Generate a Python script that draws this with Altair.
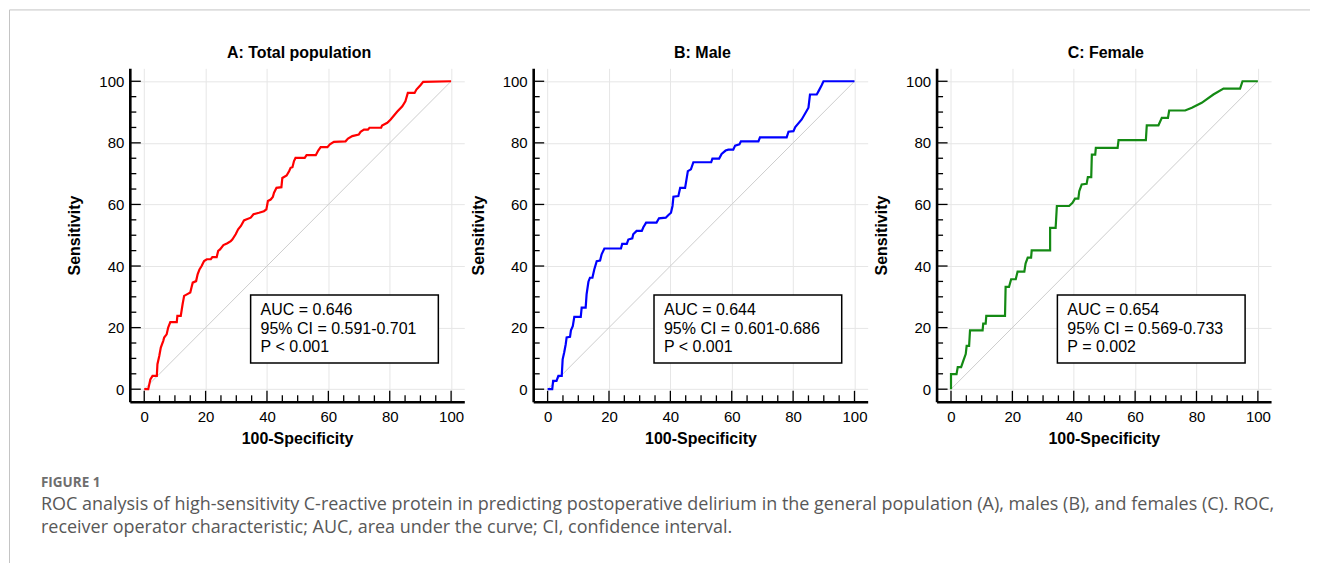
import altair as alt
import pandas as pd

# ---------------- data ----------------
a_x = [0, 1.3, 2.0, 2.7, 4.1, 4.3, 4.9, 5.4, 6.2, 6.5, 7.3, 7.8, 8.5, 10.6, 10.8, 11.9, 12.5, 13.0, 13.9, 15.0,
       15.4, 15.8, 16.9, 17.4, 18.0, 18.7, 19.5, 20.4, 21.7, 22.2, 23.6, 24.1, 24.7, 25.8, 27.1, 28.2, 28.7, 29.8,
       30.6, 31.5, 32.5, 33.2, 34.7, 35.6, 37.4, 39.0, 39.8, 40.3, 41.2, 41.9, 42.3, 43.1, 44.7, 45.0, 46.4, 47.2,
       47.7, 48.3, 48.8, 49.3, 52.3, 52.9, 55.9, 56.7, 57.5, 59.7, 60.5, 61.8, 65.6, 66.4, 67.8, 69.9, 70.5, 71.6,
       72.9, 73.4, 77.2, 77.5, 79.2, 80.3, 82.4, 84.1, 85.1, 85.9, 88.1, 88.7, 90.0, 90.9, 100]
a_y = [0, 0, 3.2, 4.3, 4.3, 8.1, 10.8, 13.5, 15.7, 16.8, 17.8, 20.0, 21.8, 21.8, 23.8, 23.8, 27.6, 30.3, 30.8, 31.4,
       33.0, 34.6, 35.1, 37.3, 38.9, 40.0, 41.6, 42.2, 42.2, 42.9, 42.9, 44.9, 45.4, 46.8, 47.4, 48.1, 48.6, 50.3,
       51.9, 53.0, 54.8, 55.1, 55.7, 56.8, 57.3, 57.8, 58.4, 61.1, 61.6, 62.4, 63.8, 65.4, 65.6, 68.6, 69.4, 70.8,
       71.9, 72.1, 74.1, 75.1, 75.1, 76.0, 76.0, 77.5, 78.6, 78.6, 79.5, 80.3, 80.5, 81.4, 82.2, 82.7, 83.6, 84.3,
       84.3, 84.9, 84.9, 85.6, 86.5, 87.6, 90.1, 91.9, 93.5, 96.2, 96.2, 97.3, 98.7, 99.8, 100]

b_x = [0, 1.5, 1.8, 2.9, 3.5, 4.6, 4.9, 5.4, 5.9, 6.2, 7.3, 7.6, 8.2, 8.7, 10.8, 11.1, 12.4, 12.7, 13.3, 13.8,
       14.6, 15.2, 16.0, 17.1, 17.6, 18.5, 23.9, 24.3, 25.8, 26.3, 27.6, 27.9, 29.0, 30.7, 31.2, 32.1, 35.5, 36.3,
       38.5, 39.3, 40.2, 40.7, 41.0, 42.6, 43.2, 44.8, 45.7, 46.7, 47.5, 53.3, 53.7, 55.9, 56.7, 58.0, 58.9, 60.5,
       61.1, 62.5, 63.0, 68.7, 69.2, 77.9, 78.5, 80.1, 80.7, 82.8, 85.0, 85.5, 87.7, 88.3, 89.3, 89.9, 100]
b_y = [0, 0, 2.7, 2.7, 4.3, 4.3, 9.7, 11.9, 14.6, 16.8, 17.0, 19.1, 20.5, 23.5, 23.5, 26.5, 26.5, 30.8, 34.9, 36.2,
       36.2, 38.9, 41.6, 41.8, 43.8, 45.7, 45.7, 47.2, 47.2, 48.6, 49.0, 50.3, 51.4, 51.4, 52.6, 54.1, 54.1, 55.5,
       55.7, 56.5, 57.3, 59.5, 62.5, 62.7, 65.4, 65.4, 70.8, 71.4, 73.7, 73.7, 74.9, 74.9, 76.4, 77.5, 77.8, 77.8,
       79.1, 79.5, 80.5, 80.5, 81.8, 81.8, 83.6, 83.8, 85.1, 87.6, 91.4, 95.7, 95.7, 96.8, 98.7, 100, 100]

c_x = [0, 0, 1.8, 2.2, 3.3, 4.0, 4.8, 5.1, 5.9, 6.2, 10.3, 10.5, 11.3, 11.5, 17.6, 17.8, 18.9, 19.6, 21.1, 21.7,
       23.9, 24.3, 25.0, 26.1, 26.3, 32.3, 32.3, 34.1, 34.5, 38.5, 39.6, 40.4, 41.5, 41.8, 42.6, 44.2, 44.6, 45.7,
       45.9, 47.0, 47.2, 54.3, 54.6, 63.5, 63.8, 67.6, 68.7, 70.7, 71.1, 76.3, 78.5, 81.7, 85.5, 88.8, 94.2, 95.0, 100]
c_y = [0, 4.9, 4.9, 7.2, 7.2, 9.2, 11.4, 14.1, 14.1, 19.1, 19.1, 21.3, 21.3, 23.8, 23.8, 33.2, 33.2, 35.7, 35.7, 38.2,
       38.2, 40.8, 42.7, 42.7, 45.1, 45.1, 52.4, 52.4, 59.5, 59.5, 60.5, 61.9, 61.9, 64.3, 66.5, 66.7, 68.9, 68.9,
       76.2, 76.2, 78.4, 78.4, 80.9, 80.9, 85.7, 85.7, 88.1, 88.1, 90.5, 90.5, 91.4, 93.0, 95.7, 97.6, 97.6, 100, 100]

panel_titles = ["A: Total population", "B: Male", "C: Female"]
auc_texts = [
    "AUC = 0.646\n95% CI = 0.591-0.701\nP < 0.001",
    "AUC = 0.644\n95% CI = 0.601-0.686\nP < 0.001",
    "AUC = 0.654\n95% CI = 0.569-0.733\nP = 0.002",
]
line_colors = ["#ff0000", "#0000ff", "#148a14"]
major_ticks = [0, 20, 40, 60, 80, 100]
minor_ticks = [5, 10, 15, 25, 30, 35, 45, 50, 55, 65, 70, 75, 85, 90, 95]
diag_ends = [0, 100]

caption_head = "FIGURE 1"
caption_1 = ("ROC analysis of high-sensitivity C-reactive protein in predicting postoperative delirium in the "
             "general population (A), males (B), and females (C). ROC,")
caption_2 = "receiver operator characteristic; AUC, area under the curve; CI, confidence interval."

# ---------------- layout / style ----------------
W, H = 335, 334
XDOM = [-4.7, 104.3]
YDOM = [-4.1, 104.2]
FONT = "Liberation Sans"

xs = alt.Scale(domain=XDOM, nice=False, zero=False)
ys = alt.Scale(domain=YDOM, nice=False, zero=False)


def one_row():
    return pd.DataFrame({"k": [0]})


def panel(i, xv, yv):
    df = pd.DataFrame({"x": xv, "y": yv, "i": list(range(len(xv)))})
    diag = alt.Chart(pd.DataFrame({"x": diag_ends, "y": diag_ends})).mark_line(
        color="#cdcdcd", strokeWidth=1
    ).encode(
        x=alt.X("x:Q", scale=xs, axis=alt.Axis(values=major_ticks, title="100-Specificity",
                                               labelPadding=8, titlePadding=6, labelFlush=False)),
        y=alt.Y("y:Q", scale=ys, axis=alt.Axis(values=major_ticks, title="Sensitivity",
                                               labelPadding=6, titlePadding=16, labelFlush=False)),
    )
    roc = alt.Chart(df).mark_line(color=line_colors[i], strokeWidth=2.2).encode(
        x=alt.X("x:Q", scale=xs), y=alt.Y("y:Q", scale=ys), order="i:Q"
    )
    tmaj = pd.DataFrame({"t": major_ticks})
    tmin = pd.DataFrame({"t": minor_ticks})
    xmaj = alt.Chart(tmaj).mark_rule(color="black", strokeWidth=1.3).encode(
        x=alt.X("t:Q", scale=xs), y=alt.value(H), y2=alt.value(H - 11))
    xmin = alt.Chart(tmin).mark_rule(color="black", strokeWidth=1.3).encode(
        x=alt.X("t:Q", scale=xs), y=alt.value(H), y2=alt.value(H - 6.5))
    ymaj = alt.Chart(tmaj).mark_rule(color="black", strokeWidth=1.3).encode(
        y=alt.Y("t:Q", scale=ys), x=alt.value(0), x2=alt.value(11))
    ymin = alt.Chart(tmin).mark_rule(color="black", strokeWidth=1.3).encode(
        y=alt.Y("t:Q", scale=ys), x=alt.value(0), x2=alt.value(6.5))
    box = alt.Chart(one_row()).mark_rect(fill="white", stroke="black", strokeWidth=1.5).encode(
        x=alt.value(121), x2=alt.value(309), y=alt.value(227), y2=alt.value(295))
    txt = alt.Chart(pd.DataFrame({"t": [auc_texts[i]]})).mark_text(
        align="left", baseline="middle", font=FONT, fontSize=16, lineBreak="\n", lineHeight=18.7,
        color="black"
    ).encode(text="t:N", x=alt.value(131), y=alt.value(242))
    ttl = alt.Chart(pd.DataFrame({"t": [panel_titles[i]]})).mark_text(
        align="center", baseline="middle", font=FONT, fontSize=16, fontWeight="bold", color="black"
    ).encode(text="t:N", x=alt.value(W / 2 + 2), y=alt.value(-15))
    layers = [diag, roc, xmaj, xmin, ymaj, ymin, box, txt, ttl]
    if i == 0:
        top = alt.Chart(one_row()).mark_rule(color="#c4c4c4", strokeWidth=1).encode(
            x=alt.value(-120.5), x2=alt.value(1182), y=alt.value(-58.5))
        left = alt.Chart(one_row()).mark_rule(color="#c4c4c4", strokeWidth=1).encode(
            x=alt.value(-120.5), y=alt.value(-58.5), y2=alt.value(496))
        cap = alt.Chart(pd.DataFrame({"t": [caption_head]})).mark_text(
            align="left", baseline="middle", font="Open Sans", fontSize=13.5, fontWeight="bold",
            color="#6e6e6e").encode(text="t:N", x=alt.value(-89), y=alt.value(415))
        cap1 = alt.Chart(pd.DataFrame({"t": [caption_1]})).mark_text(
            align="left", baseline="middle", font="Open Sans", fontSize=18,
            color="#585858").encode(text="t:N", x=alt.value(-89), y=alt.value(437))
        cap2 = alt.Chart(pd.DataFrame({"t": [caption_2]})).mark_text(
            align="left", baseline="middle", font="Open Sans", fontSize=18,
            color="#585858").encode(text="t:N", x=alt.value(-89), y=alt.value(460))
        layers += [top, left, cap, cap1, cap2]
    return alt.layer(*layers).properties(width=W, height=H)


chart = alt.hconcat(
    panel(0, a_x, a_y), panel(1, b_x, b_y), panel(2, c_x, c_y),
    spacing=69, bounds="flush",
).properties(padding=0).configure_view(stroke="transparent").configure_axis(
    domainColor="black", domainWidth=2.6, ticks=False, grid=True, gridColor="#e6e6e6", gridWidth=1,
    labelFont=FONT, labelFontSize=15, labelColor="black",
    titleFont=FONT, titleFontSize=16, titleFontWeight="bold", titleColor="black",
)

chart.save("out.html", embed_options={"renderer": "svg", "actions": False})
